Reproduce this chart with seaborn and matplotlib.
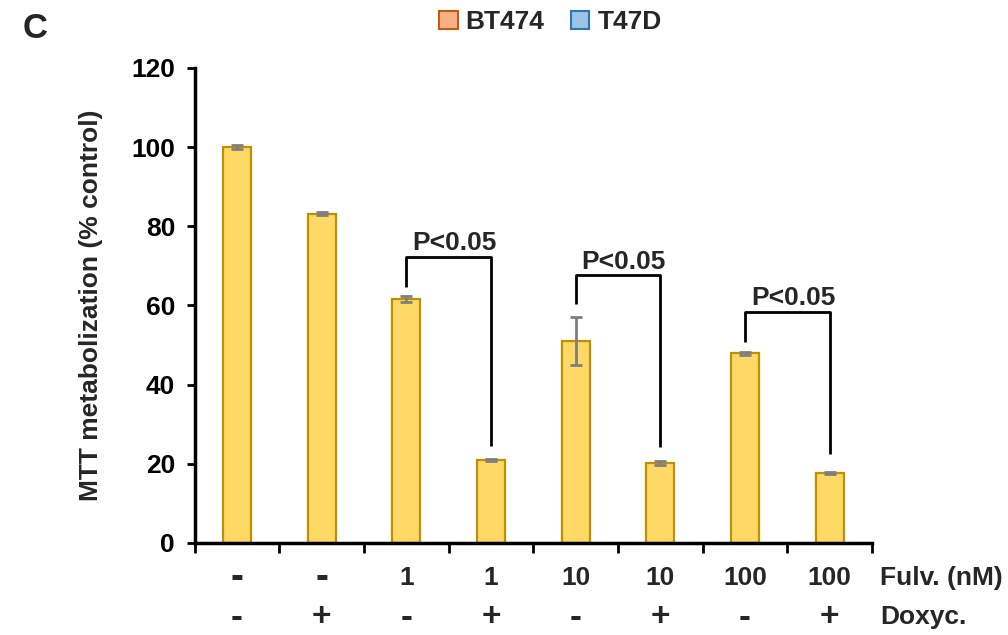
import matplotlib
matplotlib.use("Agg")
import matplotlib.pyplot as plt
import seaborn as sns
import pandas as pd
import numpy as np
from matplotlib.patches import Patch

# groups along the x axis
fulv = ["-", "-", "1", "1", "10", "10", "100", "100"]
doxy = ["-", "+", "-", "+", "-", "+", "-", "+"]
# MTT metabolization (% control) and error
mtt = [100, 83.2, 61.6, 21.0, 51.1, 20.2, 47.9, 17.7]
mtt_err = [0.5, 0.4, 0.8, 0.2, 6.1, 0.4, 0.3, 0.3]
# significance brackets
pairs = [(2, 3), (4, 5), (6, 7)]
bracket_top = [72.3, 67.7, 58.4]
bracket_left = [64.7, 60.4, 50.8]
bracket_right = [24.5, 24.3, 22.5]
p_text = "P<0.05"
legend_names = ["BT474", "T47D"]

sns.set_style("white")
plt.rcParams["font.family"] = ["Liberation Sans", "DejaVu Sans"]
plt.rcParams["font.weight"] = "bold"
fs = 19

fig = plt.figure(figsize=(10.08, 6.35), dpi=100)
ax = fig.add_axes([0.193, 0.145, 0.672, 0.748])

df = pd.DataFrame({"pos": range(len(mtt)), "mtt": mtt})
sns.barplot(data=df, x="pos", y="mtt", color="#FFD966", edgecolor="#BF9000",
            linewidth=1.6, width=0.33, saturation=1, errorbar=None, ax=ax)
ax.errorbar(df["pos"], df["mtt"], yerr=mtt_err, fmt="none", ecolor="#7F7F7F",
            elinewidth=2, capsize=4.5, capthick=2)

ax.set_xlim(-0.5, len(mtt) - 0.5)
ax.set_ylim(0, 120)
for s in ["top", "right"]:
    ax.spines[s].set_visible(False)
for s in ["left", "bottom"]:
    ax.spines[s].set_linewidth(2.5)
    ax.spines[s].set_color("black")

ax.set_yticks(np.arange(0, 121, 20))
ax.tick_params(axis="y", direction="out", length=6, width=2, labelsize=fs,
               colors="black", left=True, pad=8)
ax.set_xticks(np.arange(-0.5, len(mtt), 1))
ax.set_xticklabels([])
ax.tick_params(axis="x", direction="out", length=7, width=2, bottom=True, colors="black")
ax.set_xlabel("")

ax.set_ylabel("MTT metabolization (% control)", fontsize=fs, fontweight="bold")
ax.yaxis.set_label_coords(-0.135, 0.5)

tr = ax.get_xaxis_transform()
# +/- signs are drawn larger than the numbers, like in the original
for i in range(len(mtt)):
    ax.text(i, -0.074, fulv[i], transform=tr, ha="center", va="center",
            fontsize=28 if fulv[i] == "-" else fs)
    ax.text(i, -0.156, doxy[i], transform=tr, ha="center", va="center",
            fontsize=26 if doxy[i] == "-" else 24)
ax.text(7.6, -0.074, "Fulv. (nM)", transform=tr, ha="left", va="center", fontsize=fs)
ax.text(7.6, -0.157, "Doxyc.", transform=tr, ha="left", va="center", fontsize=fs)

for (l, r), top, le, re in zip(pairs, bracket_top, bracket_left, bracket_right):
    ax.plot([l, l, r, r], [le, top, top, re], color="black", lw=2, solid_capstyle="butt")
    ax.text((l + r) / 2 + 0.07, top + 1.6, p_text, ha="center", va="baseline", fontsize=fs)

handles = [Patch(facecolor="#F4B183", edgecolor="#C55A11", linewidth=1.5),
           Patch(facecolor="#9DC3E6", edgecolor="#2E75B6", linewidth=1.5)]
fig.legend(handles, legend_names, loc="center", bbox_to_anchor=(0.546, 0.965), ncol=2,
           frameon=False, fontsize=fs, handlelength=0.7, handleheight=0.7,
           handletextpad=0.3, columnspacing=1.0)

fig.text(0.022, 0.955, "C", fontsize=25, fontweight="bold", va="center")

fig.savefig("out.png", dpi=100)
